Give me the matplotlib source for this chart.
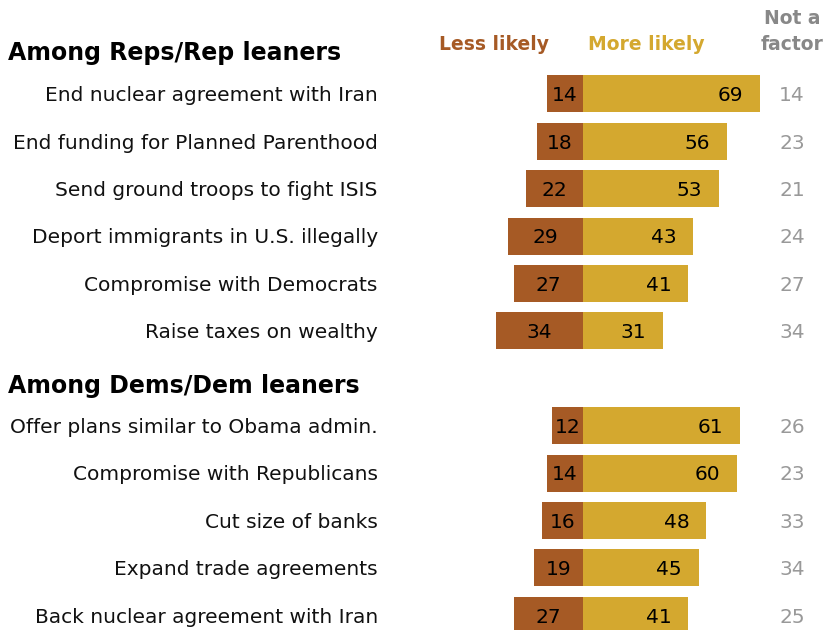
import matplotlib.pyplot as plt

# survey items, top to bottom
reps_items = ["End nuclear agreement with Iran", "End funding for Planned Parenthood",
              "Send ground troops to fight ISIS", "Deport immigrants in U.S. illegally",
              "Compromise with Democrats", "Raise taxes on wealthy"]
reps_less = [14, 18, 22, 29, 27, 34]
reps_more = [69, 56, 53, 43, 41, 31]
reps_notfactor = [14, 23, 21, 24, 27, 34]

dems_items = ["Offer plans similar to Obama admin.", "Compromise with Republicans",
              "Cut size of banks", "Expand trade agreements", "Back nuclear agreement with Iran"]
dems_less = [12, 14, 16, 19, 27]
dems_more = [61, 60, 48, 45, 41]
dems_notfactor = [26, 23, 33, 34, 25]

LESS = "#a65a25"
MORE = "#d4a82f"
GREY = "#999999"

plt.rcParams['font.family'] = ['DejaVu Sans']

fig = plt.figure(figsize=(8.33, 6.3), dpi=100)
ax = fig.add_axes([0, 0, 1, 1])
ax.set_xlim(-226.8, 97.3)
ax.set_ylim(11.31, -1.98)
ax.axis('off')

items = reps_items + dems_items
less = reps_less + dems_less
more = reps_more + dems_more
notf = reps_notfactor + dems_notfactor
ypos = list(range(6)) + list(range(7, 12))

ax.barh(ypos, [-v for v in less], height=0.78, color=LESS)
ax.barh(ypos, more, height=0.78, color=MORE)

for y, name, l, m, n in zip(ypos, items, less, more, notf):
    ax.text(-79.8, y + 0.04, name, ha='right', va='center', fontsize=14.5, color='#111111')
    ax.text(-l / 2, y + 0.04, str(l), ha='center', va='center', fontsize=14.5, color='black')
    ax.text(m - 6.5, y + 0.04, str(m), ha='right', va='center', fontsize=14.5, color='black')
    ax.text(81.3, y + 0.04, str(n), ha='center', va='center', fontsize=14.5, color=GREY)

# group headers
ax.text(-223.7, -0.87, "Among Reps/Rep leaners", ha='left', va='center',
        fontsize=17, fontweight='bold', color='black')
ax.text(-223.7, 6.16, "Among Dems/Dem leaners", ha='left', va='center',
        fontsize=17, fontweight='bold', color='black')

# column headers
ax.text(-34.6, -1.05, "Less likely", ha='center', va='center', fontsize=13.5,
        fontweight='bold', color=LESS)
ax.text(24.5, -1.05, "More likely", ha='center', va='center', fontsize=13.5,
        fontweight='bold', color=MORE)
ax.text(81.3, -1.6, "Not a", ha='center', va='center', fontsize=13.5,
        fontweight='bold', color='#888888')
ax.text(81.3, -1.05, "factor", ha='center', va='center', fontsize=13.5,
        fontweight='bold', color='#888888')

fig.savefig("out.png", dpi=100)
